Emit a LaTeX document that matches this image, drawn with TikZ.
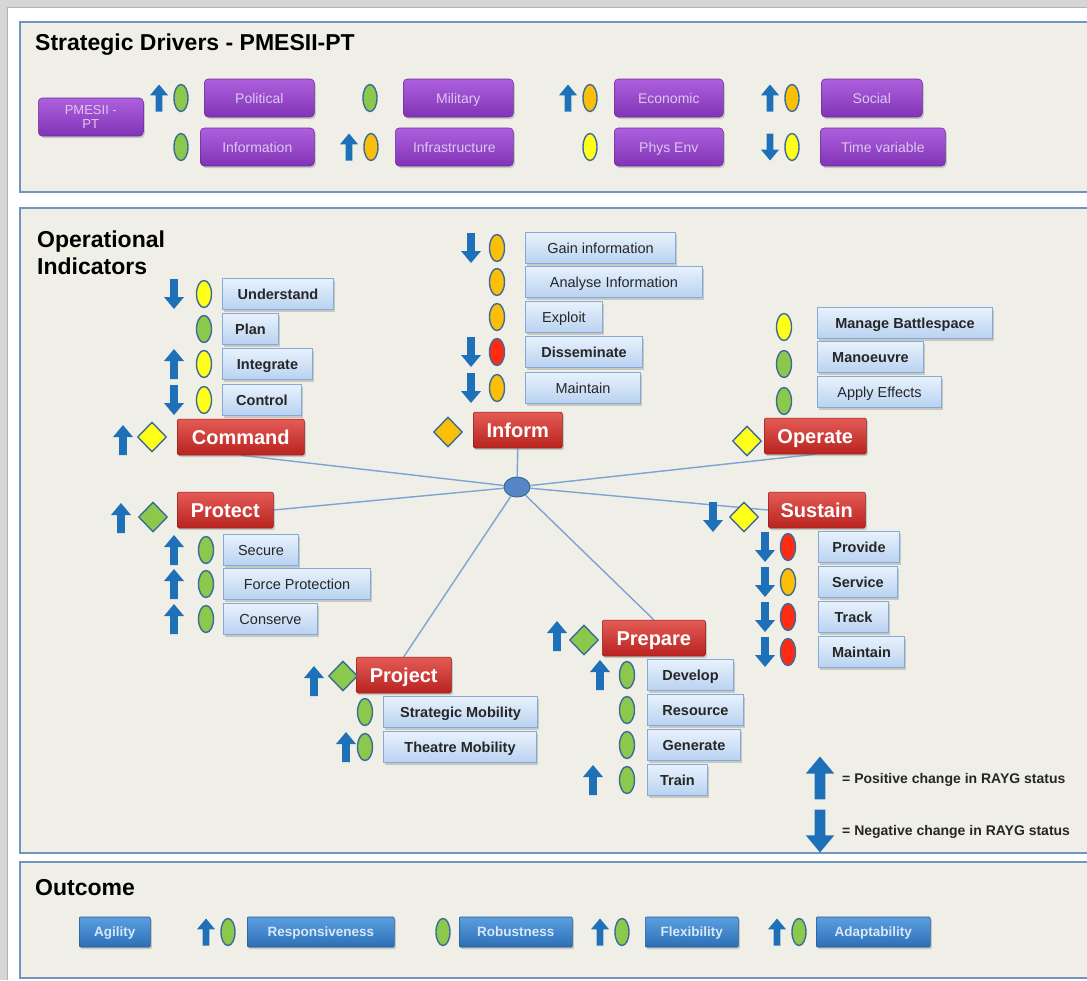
\documentclass[tikz,border=0pt]{standalone}
\usepackage{fontspec}
\setmainfont{Liberation Sans}
\usetikzlibrary{shapes.geometric,shadows,backgrounds}

\definecolor{canvasgray}{HTML}{D5D6D8}
\definecolor{panelbg}{HTML}{F0EFE7}
\definecolor{panelblue}{HTML}{7095C0}
\definecolor{arrowblue}{HTML}{1E70B8}
\definecolor{ragline}{HTML}{3D6B99}
\definecolor{statg}{HTML}{8CC84B}
\definecolor{staty}{HTML}{FFFF1A}
\definecolor{stato}{HTML}{FBBF0A}
\definecolor{statr}{HTML}{FF2A12}
\definecolor{fntop}{HTML}{E45B55}
\definecolor{fnbot}{HTML}{B8231F}
\definecolor{tasktop}{HTML}{E8F1FC}
\definecolor{taskbot}{HTML}{B9D3F1}
\definecolor{taskline}{HTML}{85AAD8}
\definecolor{drvtop}{HTML}{AD60DD}
\definecolor{drvbot}{HTML}{8034B6}
\definecolor{drvtext}{HTML}{DCC8EE}
\definecolor{octop}{HTML}{5B9FE0}
\definecolor{ocbot}{HTML}{2C6FB6}
\definecolor{octext}{HTML}{D6E8FB}
\definecolor{hubblue}{HTML}{5686C6}
\definecolor{linkblue}{HTML}{7EA3D2}

\begin{document}
\begin{tikzpicture}[x=1pt,y=-1pt,
  panel/.style={draw=panelblue,line width=2.4pt,fill=panelbg},
  heading/.style={anchor=west,font=\fontsize{23}{27}\selectfont\bfseries,align=left,inner sep=0pt},
  shade/.style={drop shadow={shadow xshift=1.5pt,shadow yshift=-2pt,opacity=.35}},
  driver/.style={anchor=west,rounded corners=4pt,top color=drvtop,bottom color=drvbot,draw=drvbot!85!black,
    line width=.6pt,text=drvtext,font=\fontsize{14}{15}\selectfont,minimum height=38pt,inner sep=2pt,
    text height=10.5pt,text depth=.5pt,shade},
  task/.style={anchor=west,top color=tasktop,bottom color=taskbot,draw=taskline,line width=1pt,
    text=black!85,font=\fontsize{14.5}{16}\selectfont,minimum height=31pt,inner sep=2pt,
    text height=11pt,text depth=.6pt,shade},
  func/.style={anchor=west,rounded corners=1.5pt,top color=fntop,bottom color=fnbot,draw=fnbot!80!black,
    line width=.5pt,text=white,font=\fontsize{20}{22}\selectfont\bfseries,minimum height=36pt,inner sep=2pt,
    text height=15pt,text depth=.7pt,shade},
  outc/.style={anchor=west,rounded corners=1pt,top color=octop,bottom color=ocbot,draw=ocbot!80!black,
    line width=.6pt,text=octext,font=\fontsize{13.5}{15}\selectfont\bfseries,minimum height=30pt,inner sep=2pt,
    text height=10.2pt,text depth=.5pt,shade},
  rag/.style={ellipse,draw=ragline,line width=1.4pt,minimum width=15pt,minimum height=27pt,inner sep=0pt},
  gate/.style={diamond,draw=ragline,line width=1.4pt,minimum width=29pt,minimum height=30pt,inner sep=0pt},
  link/.style={draw=linkblue,line width=1.4pt},
  legend/.style={anchor=west,text=black!85,font=\fontsize{14}{16}\selectfont\bfseries,inner sep=0pt}]
% pixel grid: x to the right, y downwards, 1px = 1pt
\useasboundingbox (0,0) rectangle (1087,980);
\def\uparr#1#2#3{\fill[arrowblue] ({#1-3.8*#3},{#2+15*#3}) -- ({#1-3.8*#3},{#2-3*#3}) -- ({#1-10*#3},{#2-3*#3})
  -- (#1,{#2-15*#3}) -- ({#1+10*#3},{#2-3*#3}) -- ({#1+3.8*#3},{#2-3*#3}) -- ({#1+3.8*#3},{#2+15*#3}) -- cycle;}
\def\dnarr#1#2#3{\fill[arrowblue] ({#1-3.8*#3},{#2-15*#3}) -- ({#1-3.8*#3},{#2+3*#3}) -- ({#1-10*#3},{#2+3*#3})
  -- (#1,{#2+15*#3}) -- ({#1+10*#3},{#2+3*#3}) -- ({#1+3.8*#3},{#2+3*#3}) -- ({#1+3.8*#3},{#2-15*#3}) -- cycle;}
\let\arrup\uparr
\let\arrdn\dnarr
\def\arrno#1#2#3{}

% --- canvas and the three panels ---
\begin{scope}[on background layer]
  \fill[canvasgray] (0,0) rectangle (1087,980);
  \fill[white] (7,7) rectangle (1087,980);
  \draw[gray!60,line width=.8pt] (7,980) -- (7,7) -- (1087,7);
  \draw[panel] (20,22) rectangle (1100,192);
  \draw[panel] (20,208) rectangle (1100,853);
  \draw[panel] (20,862) rectangle (1100,978);
\end{scope}

% --- Strategic drivers ---
\node[heading] (sdtitle) at (35,45) {Strategic Drivers - PMESII-PT};
\node[driver,minimum width=105pt,align=center,font=\fontsize{13}{14}\selectfont,text height=,text depth=] (pmesii) at (38,117) {PMESII -\\PT};
\foreach \nm/\xx/\yy/\ww/\txt/\ex/\col/\dir in {
    pol/204/98/110/Political/181/statg/up, inf/200/147/114/Information/181/statg/no,
    mil/403/98/110/Military/370/statg/no, infra/395/147/118/Infrastructure/371/stato/up,
    eco/614/98/109/Economic/590/stato/up, phy/614/147/109/Phys Env/590/staty/no,
    soc/821/98/101/Social/792/stato/up, tim/820/147/125/Time variable/792/staty/dn} {
  \node[driver,minimum width=\ww pt] (\nm) at (\xx,\yy) {\txt};
  \node[rag,fill=\col,minimum width=14pt] (\nm-s) at (\ex,\yy) {};
  \csname arr\dir\endcsname{\ex-22}{\yy}{0.9}
}

% --- Operational indicators ---
\node[heading] (oititle) at (37,253) {Operational\\Indicators};

% Command
\foreach \nm/\yy/\ww/\txt/\col/\dir in {und/294/111/Understand/staty/dn, plan/329/56/Plan/statg/no,
    integ/364/90/Integrate/staty/up, ctrl/400/79/Control/staty/dn} {
  \node[task,minimum width=\ww pt] (\nm) at (222,\yy) {\bfseries\txt};
  \node[rag,fill=\col] (\nm-s) at (204,\yy) {};
  \csname arr\dir\endcsname{174}{\yy}{1}
}
\node[func,minimum width=127pt] (cmd) at (177,437) {Command};
\node[gate,fill=staty] (cmd-g) at (152,437) {};
\uparr{123}{440}{1}

% Inform
\foreach \nm/\yy/\ww/\txt/\col/\dir/\fw in {gain/248/150/Gain information/stato/dn/\mdseries,
    anal/282/177/Analyse Information/stato/no/\mdseries, expl/317/77/Exploit/stato/no/\mdseries,
    diss/352/117/Disseminate/statr/dn/\bfseries, imnt/388/115/Maintain/stato/dn/\mdseries} {
  \node[task,minimum width=\ww pt] (\nm) at (525,\yy) {\fw\txt};
  \node[rag,fill=\col] (\nm-s) at (497,\yy) {};
  \csname arr\dir\endcsname{471}{\yy}{1}
}
\node[func,minimum width=89pt] (inform) at (473,430) {Inform};
\node[gate,fill=stato] (inform-g) at (448,432) {};

% Operate
\foreach \nm/\yy/\ey/\ww/\txt/\col/\fw in {mbs/323/327/175/Manage Battlespace/staty/\bfseries,
    mnv/357/364/106/Manoeuvre/statg/\bfseries, apf/392/401/124/Apply Effects/statg/\mdseries} {
  \node[task,minimum width=\ww pt] (\nm) at (817,\yy) {\fw\txt};
  \node[rag,fill=\col] (\nm-s) at (784,\ey) {};
}
\node[func,minimum width=102pt] (operate) at (764,436) {Operate};
\node[gate,fill=staty] (operate-g) at (747,441) {};

% Protect
\node[func,minimum width=96pt] (protect) at (177,510) {Protect};
\node[gate,fill=statg] (protect-g) at (153,517) {};
\uparr{121}{518}{1}
\foreach \nm/\yy/\ww/\txt in {sec/550/75/Secure, fpr/584/147/Force Protection, cons/619/94/Conserve} {
  \node[task,minimum width=\ww pt] (\nm) at (223,\yy) {\txt};
  \node[rag,fill=statg] (\nm-s) at (206,\yy) {};
  \uparr{174}{\yy}{1}
}

% Project
\node[func,minimum width=95pt] (project) at (356,675) {Project};
\node[gate,fill=statg] (project-g) at (343,676) {};
\uparr{314}{681}{1}
\foreach \nm/\yy/\ww/\txt/\dir in {smob/712/154/Strategic Mobility/no, tmob/747/153/Theatre Mobility/up} {
  \node[task,minimum width=\ww pt] (\nm) at (383,\yy) {\bfseries\txt};
  \node[rag,fill=statg] (\nm-s) at (365,\yy) {};
  \csname arr\dir\endcsname{346}{\yy}{1}
}

% Prepare
\node[func,minimum width=103pt] (prepare) at (602,638) {Prepare};
\node[gate,fill=statg] (prepare-g) at (584,640) {};
\uparr{557}{636}{1}
\foreach \nm/\yy/\ww/\txt/\dir/\ax in {dev/675/86/Develop/up/600, res/710/96/Resource/no/600,
    gen/745/93/Generate/no/600, trn/780/60/Train/up/593} {
  \node[task,minimum width=\ww pt] (\nm) at (647,\yy) {\bfseries\txt};
  \node[rag,fill=statg] (\nm-s) at (627,\yy) {};
  \csname arr\dir\endcsname{\ax}{\yy}{1}
}

% Sustain
\node[func,minimum width=97pt] (sustain) at (768,510) {Sustain};
\node[gate,fill=staty] (sustain-g) at (744,517) {};
\dnarr{713}{517}{1}
\foreach \nm/\yy/\ww/\txt/\col in {prov/547/81/Provide/statr, serv/582/79/Service/stato,
    trk/617/70/Track/statr, smnt/652/86/Maintain/statr} {
  \node[task,minimum width=\ww pt] (\nm) at (818,\yy) {\bfseries\txt};
  \node[rag,fill=\col] (\nm-s) at (788,\yy) {};
  \dnarr{765}{\yy}{1}
}

% hub and spokes
\node[ellipse,fill=hubblue,draw=ragline,line width=1pt,minimum width=26pt,minimum height=20pt,inner sep=0pt] (hub) at (517,487) {};
\begin{scope}[on background layer]
  \foreach \n/\a in {cmd/south,inform/south,operate/south,protect/east,sustain/west,project/north,prepare/north}
    \draw[link] (hub) -- (\n.\a);
\end{scope}

% legend
\uparr{820}{778}{1.43}
\dnarr{820}{831}{1.43}
\node[legend] (pos) at (842,780) {= Positive change in RAYG status};
\node[legend] (neg) at (842,832) {= Negative change in RAYG status};

% --- Outcome ---
\node[heading] (octitle) at (35,888) {Outcome};
\node[outc,minimum width=71pt] (agil) at (79,932) {Agility};
\foreach \nm/\xx/\ww/\txt/\ex/\dir in {resp/247/147/Responsiveness/228/up, rob/459/113/Robustness/443/no,
    flex/645/93/Flexibility/622/up, adap/816/114/Adaptability/799/up} {
  \node[outc,minimum width=\ww pt] (\nm) at (\xx,932) {\txt};
  \node[rag,fill=statg,minimum width=14pt] (\nm-s) at (\ex,932) {};
  \csname arr\dir\endcsname{\ex-22}{932}{0.9}
}
\end{tikzpicture}
\end{document}
